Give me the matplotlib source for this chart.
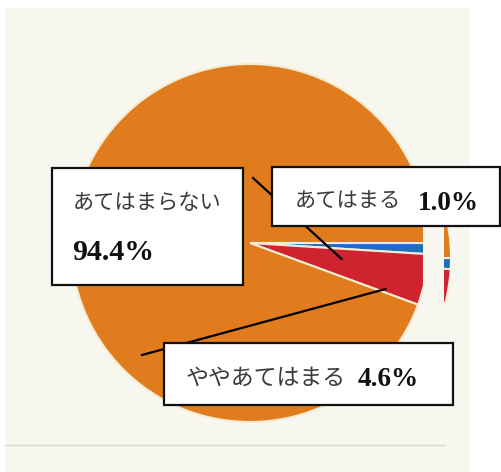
import numpy as np
import matplotlib
matplotlib.use("Agg")
import matplotlib.pyplot as plt
from matplotlib.patches import Rectangle, Polygon

# ---- data ----
categories = ["あてはまる", "ややあてはまる", "あてはまらない"]
values = [1.0, 4.6, 94.4]
value_labels = ["1.0%", "4.6%", "94.4%"]
colors = ["#1f6dbd", "#cf2330", "#e07c1d"]

W, H = 501, 472
fig = plt.figure(figsize=(W / 100, H / 100), dpi=100, facecolor="white")
ax = fig.add_axes([0, 0, 1, 1])

paper = "#f8f7ef"
ax.add_patch(Rectangle((5, 8), 465, 470, facecolor=paper, edgecolor="none", zorder=0))
ax.plot([5, 445], [445, 445], color="#dcd9cf", lw=1.0, zorder=0.5)

cx, cy, R = 250, 243, 179
edge = dict(edgecolor="#f4ecd2", linewidth=1.5)


def clip_poly(x0, y0, x1, y1):
    return Polygon([[x0, y0], [x1, y0], [x1, y1], [x0, y1]], closed=True,
                   transform=ax.transData, facecolor="none", edgecolor="none")

# main pie (clipped by the scan's fold)
wedges, _ = ax.pie(values, colors=colors, startangle=0, counterclock=True,
                   center=(cx, cy), radius=R, wedgeprops=edge, frame=True)
cm = clip_poly(0, 0, 423, H)
for w in wedges:
    w.set_clip_on(True)
    w.set_clip_path(cm)
    w.set_zorder(1)

# thin sliver beyond the fold
wedges2, _ = ax.pie(values, colors=colors, startangle=0, counterclock=True,
                    center=(cx + 22, cy + 15), radius=R, wedgeprops=edge, frame=True)
cs = clip_poly(444.5, 218, 450, 302)
for w in wedges2:
    w.set_clip_on(True)
    w.set_clip_path(cs)
    w.set_zorder(1)

ax.set_xlim(0, W)
ax.set_ylim(H, 0)
ax.set_aspect("equal")
ax.axis("off")

# leader lines (in polar coords around pie center)
def polar(r, deg):
    t = np.deg2rad(deg)
    return cx + r * np.cos(t), cy + r * np.sin(t)

x1, y1 = polar(93, 9.9)
ax.plot([253, x1], [178, y1], color="black", lw=1.6, zorder=2)
x2, y2 = polar(143, 18.8)
ax.plot([142, x2], [355, y2], color="black", lw=1.6, zorder=2)

# label boxes
def box(x0, y0, x1_, y1_):
    ax.add_patch(Rectangle((x0, y0), x1_ - x0, y1_ - y0, facecolor="white",
                           edgecolor="#111111", lw=1.6, zorder=3, clip_on=False))

jp = ["Noto Sans CJK JP", "DejaVu Sans"]
num = ["Liberation Serif", "DejaVu Serif"]
tcol = "#3a3a3a"

box(52, 168, 243, 285)
ax.text(73, 203, categories[2], family=jp, fontsize=15.3, color=tcol,
        ha="left", va="center", zorder=4)
ax.text(72, 253, value_labels[2], family=num, fontsize=21.5, weight="bold",
        color="#111111", ha="left", va="center", zorder=4)

box(272, 167, 500, 226)
ax.text(295, 202, categories[0], family=jp, fontsize=15.3, color=tcol,
        ha="left", va="center", zorder=4)
ax.text(418, 204, value_labels[0], family=num, fontsize=19.5, weight="bold",
        color="#111111", ha="left", va="center", zorder=4)

box(164, 343, 453, 405)
ax.text(186, 378, categories[1], family=jp, fontsize=16.5, color=tcol,
        ha="left", va="center", zorder=4)
ax.text(358, 380, value_labels[1], family=num, fontsize=19.5, weight="bold",
        color="#111111", ha="left", va="center", zorder=4)

fig.savefig("out.png", dpi=100, facecolor="white")
